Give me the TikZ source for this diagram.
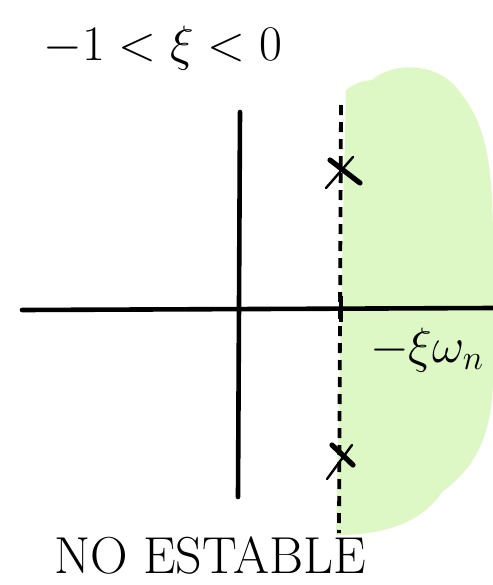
\documentclass[tikz,border=0pt]{standalone}
\usepackage{amsmath}
\definecolor{stablegreen}{RGB}{221,248,196}
\begin{document}
\begin{tikzpicture}[x=0.5pt,y=-0.5pt,
  axisline/.style={line width=2.3pt,line cap=round},
  boundline/.style={line width=1.9pt,dash pattern=on 5pt off 3.5pt},
  polethick/.style={line width=2.6pt,line cap=round},
  polethin/.style={line width=1.2pt,line cap=round},
  sketchtext/.style={inner sep=0pt,font=\fontsize{25}{30}\selectfont}]
\useasboundingbox (0,0) rectangle (493,585);

\fill[stablegreen] (346,90) .. controls (358,82) .. (372,80)
  .. controls (392,62) and (440,60) .. (462,95)
  .. controls (490,130) and (493,180) .. (493,250) -- (493,380)
  .. controls (492,440) and (472,470) .. (442,492)
  .. controls (420,525) and (380,535) .. (336,535) -- cycle;

\coordinate (reW) at (22,310);
\coordinate (reE) at (493,308);
\coordinate (imN) at (240,112);
\coordinate (imS) at (238,497);
\coordinate (bndN) at (341,105);
\coordinate (bndS) at (339,533);
\draw[axisline] (reW) -- (reE);
\draw[axisline] (imN) -- (imS);
\draw[boundline] (bndN) -- (bndS);
\draw[line width=1.9pt] (341,296) -- (341,322);

\draw[polethick] (330,160) -- (360,183);
\draw[polethin] (353,157) -- (326,188);
\draw[polethick] (332,445) -- (353,465);
\draw[polethin] (352,445) -- (327,479);

\node[sketchtext] (range) at (163,48) {$-1<\xi<0$};
\node[sketchtext,font=\fontsize{23}{27}\selectfont] (sigma) at (427,350) {$-\xi\omega_n$};
\node[sketchtext,font=\fontsize{26}{31}\selectfont] (verdict) at (210,556) {NO ESTABLE};
\end{tikzpicture}
\end{document}
